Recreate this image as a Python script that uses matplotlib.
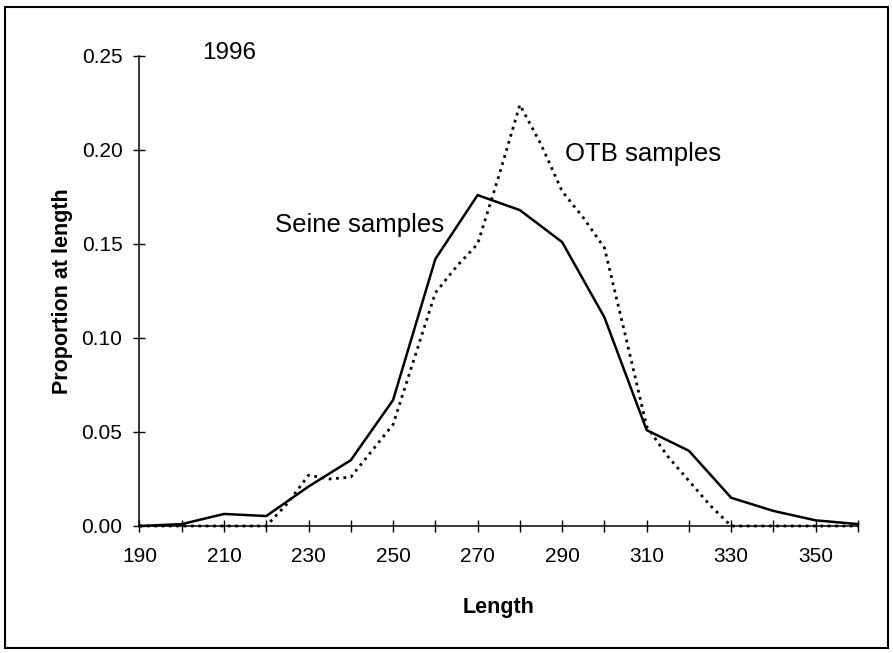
import matplotlib
matplotlib.use('Agg')
import matplotlib.pyplot as plt
from matplotlib.patches import Rectangle
from matplotlib.ticker import MultipleLocator, FixedLocator, FormatStrFormatter

plt.rcParams['font.family'] = ['Liberation Sans', 'DejaVu Sans']

# Seine samples, every 10 mm
seine_length = [190, 200, 210, 220, 230, 240, 250, 260, 270, 280, 290,
                300, 310, 320, 330, 340, 350, 360]
seine_prop = [0.000, 0.001, 0.0064, 0.0053, 0.021, 0.035, 0.067, 0.142,
              0.176, 0.168, 0.151, 0.111, 0.051, 0.040, 0.015, 0.008,
              0.003, 0.001]

# OTB samples, every 5 mm
otb_length = [190, 195, 200, 205, 210, 215, 220, 225, 230, 235, 240, 245,
              250, 255, 260, 265, 270, 275, 280, 285, 290, 295, 300, 305,
              310, 315, 320, 325, 330, 335, 340, 345, 350, 355, 360]
otb_prop = [0.0, 0.0, 0.0, 0.0, 0.0, 0.0, 0.0, 0.012, 0.027, 0.025, 0.026,
            0.040, 0.054, 0.089, 0.124, 0.138, 0.150, 0.186, 0.224, 0.203,
            0.178, 0.164, 0.148, 0.101, 0.053, 0.037, 0.024, 0.011, 0.0,
            0.0, 0.0, 0.0, 0.0, 0.0, 0.0]

# labelled ticks every 20 starting at 190, unlabelled ones in between
x_labelled = [190, 210, 230, 250, 270, 290, 310, 330, 350]
x_unlabelled = [200, 220, 240, 260, 280, 300, 320, 340, 360]

fig = plt.figure(figsize=(8.93, 6.53), dpi=100)
ax = fig.add_axes([0.1562, 0.1945, 0.8046, 0.7198])

ax.plot(seine_length, seine_prop, '-', color='black', linewidth=1.8,
        clip_on=False)
ax.plot(otb_length, otb_prop, ':', color='black', linewidth=2.0,
        clip_on=False)

ax.set_xlim(190, 360)
ax.set_ylim(0, 0.25)

ax.xaxis.set_major_locator(FixedLocator(x_labelled))
ax.xaxis.set_minor_locator(FixedLocator(x_unlabelled))
ax.yaxis.set_major_locator(MultipleLocator(0.05))
ax.yaxis.set_major_formatter(FormatStrFormatter('%.2f'))

ax.tick_params(axis='both', which='both', direction='inout', length=8.5,
               width=1.0, labelsize=15)
ax.tick_params(axis='x', which='major', pad=11)
ax.tick_params(axis='y', which='major', pad=8)

for side in ['top', 'right']:
    ax.spines[side].set_visible(False)
for side in ['left', 'bottom']:
    ax.spines[side].set_linewidth(1.1)

ax.set_xlabel('Length', fontsize=15.5, fontweight='bold', labelpad=22)
ax.set_ylabel('Proportion at length', fontsize=15.5, fontweight='bold',
              labelpad=6)

ax.text(204.8, 0.2484, '1996', fontsize=17.5, va='baseline', ha='left')
ax.text(222.0, 0.1566, 'Seine samples', fontsize=18.5, va='baseline',
        ha='left')
ax.text(290.6, 0.194, 'OTB samples', fontsize=18.5, va='baseline', ha='left')

# outer frame around the whole chart
fig.patches.append(Rectangle((0.0056, 0.0077), 0.9888, 0.9816,
                             transform=fig.transFigure, fill=False,
                             edgecolor='black', linewidth=1.5))

plt.savefig('out.png', dpi=100)
plt.close()
